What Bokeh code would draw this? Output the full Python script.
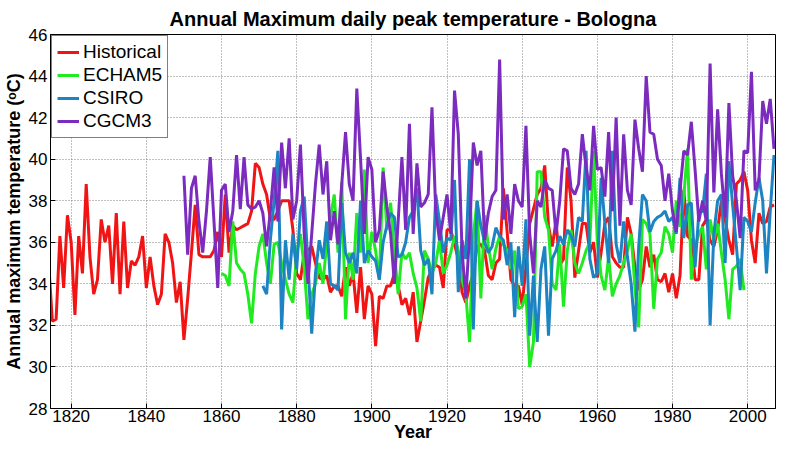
from bokeh.plotting import figure
from bokeh.models import FixedTicker, Legend, LegendItem, Range1d
from bokeh.embed import file_html
from bokeh.resources import INLINE

FONT = "Liberation Sans"

x_ticks = [1820, 1840, 1860, 1880, 1900, 1920, 1940, 1960, 1980, 2000]
y_ticks = [28, 30, 32, 34, 36, 38, 40, 42, 44, 46]

hist_start = 1814
hist_vals = [
    35.0, 32.2, 32.3, 36.3, 33.8, 37.3,
    36.0, 32.5, 36.3, 34.5, 38.8, 35.3, 33.5, 34.2, 37.1, 36.0,
    36.8, 34.0, 37.4, 33.5, 37.0, 33.8, 35.1, 34.9, 35.3, 36.3,
    33.8, 35.3, 33.9, 33.0, 33.5, 36.4, 36.0, 35.0, 33.1, 34.1,
    31.3, 33.3, 35.5, 37.8, 35.4, 35.3, 35.3, 35.3, 35.6, 36.5,
    35.3, 38.3, 35.5, 36.8, 36.6, 36.7, 36.8, 36.9, 37.5, 39.8,
    39.6, 38.8, 38.3, 37.1, 37.1, 37.5, 38.0, 38.0, 38.0, 36.6,
    34.5, 34.2, 35.5, 35.6, 35.8, 35.0, 34.3, 34.2, 34.4, 33.6,
    33.9, 33.9, 33.4, 34.8, 33.9, 34.5, 32.6, 34.8, 32.3, 33.9,
    33.5, 31.0, 33.4, 33.3, 33.9, 33.9, 34.5, 33.9, 33.0, 33.3,
    32.5, 33.6, 31.2, 32.2, 33.2, 34.3, 34.7, 34.9, 34.8, 33.8,
    36.6, 36.6, 35.9, 35.2, 33.6, 33.1, 33.9, 34.5, 35.8, 35.9,
    35.6, 34.4, 34.2, 35.0, 35.2, 38.6, 36.5, 34.2, 33.9, 33.9,
    33.0, 34.8, 36.9, 37.6, 38.3, 38.6, 39.7, 36.8, 35.8, 37.0,
    34.9, 35.2, 39.6, 38.0, 34.3, 35.6, 36.9, 36.9, 35.5, 36.0,
    34.3, 35.5, 36.9, 37.2, 35.3, 35.0, 34.8, 34.8, 37.2, 36.4,
    34.8, 33.7, 34.2, 35.8, 34.8, 35.4, 34.2, 34.1, 34.5, 33.6,
    34.5, 33.3, 34.4, 38.5, 36.3, 36.1, 34.2, 34.2, 36.8, 37.1,
    36.1, 35.8, 36.6, 38.0, 37.1, 36.1, 35.4, 38.8, 39.0, 39.4,
    38.5, 36.1, 35.0, 37.4, 36.9, 37.0, 37.7, 37.8,
]

echam_start = 1860
echam_vals = [
    34.5, 34.4, 33.9, 37.0, 35.0, 34.7, 34.5, 33.5, 32.1, 34.5,
    35.8, 36.4, 35.0, 34.0, 35.9, 36.0, 35.0, 34.2, 33.5, 33.1,
    35.5, 36.4, 34.8, 32.3, 33.5, 34.0, 35.0, 34.0, 36.0, 37.2,
    38.3, 35.5, 38.9, 32.3, 35.5, 34.2, 37.4, 35.5, 39.5, 35.0,
    36.5, 35.6, 34.2, 39.6, 36.6, 37.9, 35.5, 33.5, 35.5, 35.2,
    35.5, 34.5, 33.8, 32.2, 35.6, 35.2, 34.5, 35.0, 36.1, 34.5,
    34.9, 35.5, 36.3, 35.6, 34.2, 33.5, 31.2, 36.3, 38.0, 33.3,
    37.3, 35.8, 34.7, 35.7, 36.3, 35.9, 35.6, 34.7, 35.6, 32.8,
    32.9, 33.5, 30.0, 31.2, 39.4, 39.4, 37.2, 36.6, 34.0, 33.7,
    35.9, 32.9, 35.6, 36.6, 35.0, 34.5, 35.0, 35.6, 36.0, 40.4,
    36.0, 34.4, 33.7, 35.3, 33.4, 34.0, 34.4, 35.0, 35.6, 36.4,
    33.8, 31.9, 37.1, 36.9, 36.4, 32.8, 35.2, 35.5, 36.75, 36.4,
    35.5, 38.0, 36.75, 38.2, 40.5, 34.2, 35.8, 36.4, 36.75, 34.7,
    37.1, 36.1, 36.9, 35.5, 34.2, 32.3, 34.7, 34.85, 35.2, 33.7,
]

csiro_start = 1871
csiro_vals = [
    33.9, 33.5, 36.1, 38.0, 40.4, 31.8, 36.1, 34.2, 36.4,
    34.7, 37.5, 38.2, 35.0, 31.6, 34.5, 36.1, 35.2, 37.0, 34.0,
    33.9, 33.7, 37.9, 35.5, 35.0, 35.5, 34.5, 38.0, 35.0, 35.6,
    35.3, 35.1, 34.2, 36.0, 36.8, 37.4, 37.2, 35.3, 35.4, 36.0,
    37.2, 37.5, 38.6, 35.6, 34.9, 35.2, 33.5, 38.3, 37.0, 35.5,
    36.2, 36.1, 39.0, 33.6, 36.1, 35.2, 40.0, 31.8, 38.0, 36.8,
    36.0, 35.5, 35.8, 36.7, 36.3, 36.1, 34.9, 36.0, 32.4, 35.8,
    33.9, 37.1, 31.5, 34.4, 31.2, 34.7, 35.8, 31.5, 35.2, 35.6,
    36.3, 35.9, 36.6, 36.3, 35.8, 37.2, 37.0, 40.4, 35.2, 34.3,
    34.5, 39.1, 36.9, 35.0, 40.4, 35.9, 35.0, 37.0, 35.3, 34.0,
    31.7, 35.8, 38.3, 38.0, 36.5, 37.0, 37.2, 37.3, 37.5, 37.0,
    37.2, 36.4, 39.1, 36.2, 37.8, 37.9, 34.8, 37.4, 37.5, 39.3,
    32.0, 36.4, 38.0, 38.3, 35.0, 39.9, 37.8, 35.8, 33.7, 37.2,
    37.0, 36.5, 37.9, 39.1, 38.0, 34.5, 37.5, 40.2,
]

cgcm_start = 1850
cgcm_vals = [
    39.2, 35.4, 38.6, 39.2, 37.0, 35.5, 37.5, 40.1, 37.0, 33.8,
    38.5, 38.8, 36.5, 37.5, 40.2, 37.6, 40.1, 37.8, 37.6, 37.7,
    38.0, 37.4, 35.8, 37.5, 39.6, 37.0, 40.8, 38.6, 41.0, 37.1,
    38.0, 40.7, 36.4, 34.0, 36.4, 38.8, 40.7, 38.3, 39.9, 36.1,
    37.5, 35.9, 38.8, 41.3, 38.8, 38.0, 43.4, 40.0, 36.4, 40.1,
    39.5, 36.0, 36.6, 39.4, 37.7, 36.4, 34.0, 37.0, 40.1, 36.6,
    41.7, 36.4, 39.8, 37.7, 37.9, 38.3, 42.5, 37.5, 36.1, 37.2,
    38.3, 36.4, 43.3, 41.2, 35.6, 33.3, 36.4, 40.8, 39.7, 40.4,
    36.1, 37.4, 38.2, 38.5, 44.8, 37.1, 38.3, 36.4, 38.8, 38.0,
    37.7, 41.6, 36.4, 34.5, 38.0, 37.7, 39.0, 38.6, 38.5, 36.4,
    38.0, 40.5, 40.4, 38.6, 38.3, 38.8, 41.2, 39.6, 38.5, 41.6,
    39.5, 39.6, 38.2, 41.3, 37.5, 42.0, 36.8, 41.2, 38.5, 37.8,
    41.9, 40.5, 39.4, 44.0, 41.3, 41.2, 40.0, 39.7, 38.0, 39.3,
    37.5, 36.5, 38.5, 40.4, 40.2, 41.8, 39.5, 37.0, 38.0, 37.0,
    44.6, 38.4, 42.4, 39.3, 37.2, 42.7, 39.2, 38.0, 36.2, 40.4,
    40.3, 44.2, 38.5, 39.0, 42.8, 41.7, 42.9, 40.5,
]

series = [
    ("Historical", hist_start, hist_vals, "#f01414"),
    ("ECHAM5", echam_start, echam_vals, "#20ea20"),
    ("CSIRO", csiro_start, csiro_vals, "#1c84c2"),
    ("CGCM3", cgcm_start, cgcm_vals, "#7b2cbf"),
]

p = figure(width=777, height=444, output_backend="svg", toolbar_location=None,
           x_range=Range1d(1814.5, 2007.4), y_range=Range1d(28, 46),
           min_border_left=47, min_border_right=2, min_border_top=30,
           min_border_bottom=0, background_fill_color="white",
           border_fill_color="white")

p.title.text = "Annual Maximum daily peak temperature - Bologna"
p.title.align = "center"
p.title.text_font = FONT
p.title.text_font_size = "20px"
p.title.text_font_style = "bold"
p.title.text_color = "black"
p.title.offset = 0

items = []
for name, start, vals, color in series:
    yrs = list(range(start, start + len(vals)))
    r = p.line(yrs, vals, line_width=3, line_color=color)
    items.append(LegendItem(label=name, renderers=[r]))

legend = Legend(items=items, location="top_left")
legend.label_text_font = FONT
legend.label_text_font_size = "19px"
legend.label_text_color = "black"
legend.border_line_color = "black"
legend.border_line_width = 1
legend.background_fill_alpha = 1
legend.glyph_width = 22
legend.glyph_height = 22
legend.label_height = 22
legend.spacing = 1
legend.padding = 5
legend.margin = 1
legend.label_standoff = 4
p.add_layout(legend)

p.xaxis.ticker = FixedTicker(ticks=x_ticks)
p.yaxis.ticker = FixedTicker(ticks=y_ticks)
p.xgrid.ticker = FixedTicker(ticks=x_ticks)
p.ygrid.ticker = FixedTicker(ticks=y_ticks)
p.xaxis.axis_label = "Year"
p.yaxis.axis_label = "Annual maximum temperature (ᵒC)"
p.xaxis.axis_label_text_font_size = "18px"
p.yaxis.axis_label_text_font_size = "18px"
for ax in (p.xaxis, p.yaxis):
    ax.axis_label_text_font = FONT
    ax.axis_label_text_font_style = "bold"
    ax.axis_label_text_color = "black"
    ax.major_label_text_font = FONT
    ax.major_label_text_font_size = "17px"
    ax.major_label_text_color = "black"
    ax.axis_line_color = "black"
    ax.major_tick_line_color = "black"
    ax.major_tick_in = 5
    ax.major_tick_out = 0
    ax.minor_tick_line_color = None
p.xaxis.major_label_standoff = 1
p.xaxis.axis_label_standoff = -3
p.yaxis.major_label_standoff = 3
p.yaxis.axis_label_standoff = 2

for g in (p.xgrid, p.ygrid):
    g.grid_line_color = "#808080"
    g.grid_line_dash = "1 2"
    g.grid_line_width = 1

p.outline_line_color = "black"
p.outline_line_width = 1

open("out.html", "w").write(file_html(p, INLINE))
